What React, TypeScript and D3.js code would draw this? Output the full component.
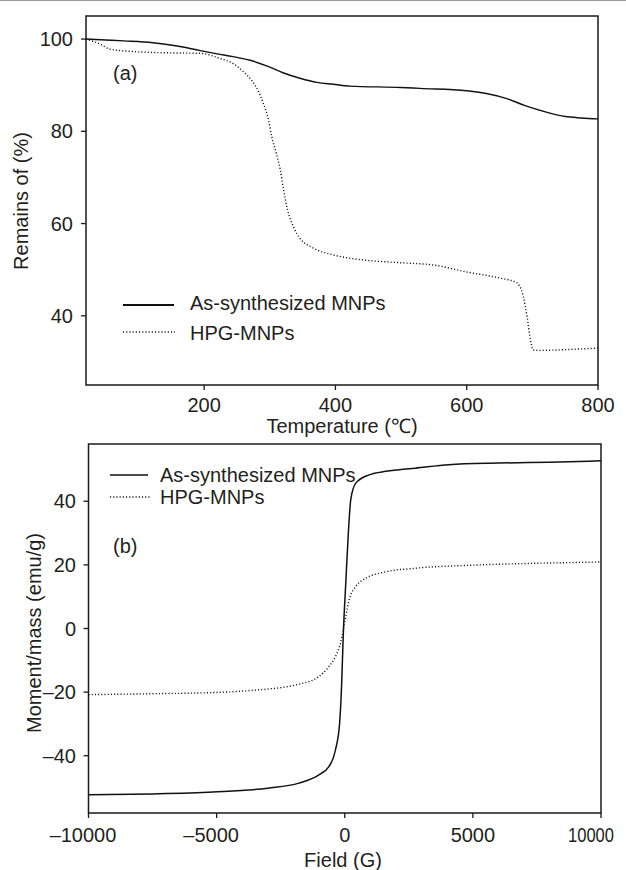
import React from "react";
import * as d3 from "d3";

// ---- Panel (a): TGA ----
const tgaAsTemp = [20, 50, 78, 122, 159, 194, 220, 244, 270, 295, 320, 346, 372, 397, 422, 500, 529, 600, 630, 661, 690, 720, 750, 775, 800];
const tgaAsVal = [100, 99.8, 99.6, 99.2, 98.5, 97.5, 96.8, 96.2, 95.4, 94.2, 92.7, 91.5, 90.6, 90.2, 89.8, 89.5, 89.3, 88.8, 88.2, 87.1, 85.5, 84.2, 83.2, 82.9, 82.7];

const tgaHpgTemp = [20, 40, 57, 92, 150, 194, 224, 244, 260, 272, 283, 290, 298, 303, 310, 316, 321, 327, 336, 346, 366, 397, 417, 450, 500, 550, 600, 650, 676, 686, 692, 697, 701, 710, 740, 770, 800];
const tgaHpgVal = [100, 99, 97.8, 97.3, 97, 96.9, 95.8, 94.7, 92.9, 91.1, 88.6, 86.1, 82.5, 78.8, 75.2, 71.6, 67.3, 63, 59.3, 56.8, 54.7, 53.2, 52.6, 52, 51.5, 51, 49.5, 48.2, 47.2, 44.3, 39.8, 34.8, 32.6, 32.5, 32.6, 32.8, 33];

const tgaXTicks = [200, 400, 600, 800];
const tgaYTicks = [40, 60, 80, 100];

// ---- Panel (b): M-H ----
const mhAsField = [-10000, -7500, -5150, -3000, -1790, -1010, -620, -360, -200, -120, -55, 40, 140, 235, 430, 950, 1600, 2120, 2750, 4060, 6000, 8000, 10000];
const mhAsVal = [-52.3, -52, -51.4, -50.2, -48.6, -46, -43.4, -38.1, -29.7, -17.2, -1.4, 14.3, 30, 40.5, 45.7, 48.3, 49.4, 49.9, 50.4, 51.5, 52, 52.3, 52.7];

const mhHpgField = [-10000, -7500, -5000, -3700, -1790, -1010, -620, -360, -165, -55, 40, 170, 430, 820, 1470, 2120, 2430, 3290, 4060, 6000, 8000, 10000];
const mhHpgVal = [-20.8, -20.5, -20.1, -19.5, -17.5, -15.1, -12, -8.8, -4.6, -0.4, 3.8, 9, 13.2, 15.8, 17.6, 18.5, 18.7, 19.3, 19.6, 20.2, 20.6, 20.9];

const mhXTicks = [-10000, -5000, 0, 5000, 10000];
const mhYTicks = [-40, -20, 0, 20, 40];

const seriesNames = ["As-synthesized MNPs", "HPG-MNPs"];

const FONT = "'Liberation Sans', Arial, Helvetica, sans-serif";
const TXT = "#231f20";
const DOT = "1.1,2.1";

function fmt(v: number) {
  return v < 0 ? "\u2013" + Math.abs(v) : String(v);
}

function Frame({ x, y, tickX, tickY, labelGapX, labelGapY, squeezeLast }: any) {
  const [x0, x1] = x.range();
  const [y0, y1] = y.range();
  return (
    <g>
      <rect x={x0} y={y1} width={x1 - x0} height={y0 - y1} fill="none" stroke="#1a1a1a" strokeWidth={1.5} />
      {tickX.map((t: number, i: number) => {
        const last = squeezeLast && i === tickX.length - 1;
        return (
          <g key={"x" + t}>
            <line x1={x(t)} x2={x(t)} y1={y0} y2={y0 + 5} stroke="#1a1a1a" strokeWidth={1.3} />
            {last ? (
              <text
                x={x1 + 13}
                y={y0 + labelGapX}
                textAnchor="end"
                fontSize={20}
                fill={TXT}
                fontFamily={FONT}
                textLength={46}
                lengthAdjust="spacingAndGlyphs"
              >
                {fmt(t)}
              </text>
            ) : (
              <text
                x={x(t) - (t < 0 ? 5.5 : 0)}
                y={y0 + labelGapX}
                textAnchor="middle"
                fontSize={20}
                fill={TXT}
                fontFamily={FONT}
              >
                {fmt(t)}
              </text>
            )}
          </g>
        );
      })}
      {tickY.map((t: number) => (
        <g key={"y" + t}>
          <line x1={x0 - 5} x2={x0} y1={y(t)} y2={y(t)} stroke="#1a1a1a" strokeWidth={1.3} />
          <text x={x0 - labelGapY} y={y(t) + 7} textAnchor="end" fontSize={20} fill={TXT} fontFamily={FONT}>
            {fmt(t)}
          </text>
        </g>
      ))}
    </g>
  );
}

export default function App() {
  // Panel a scales
  const xa = d3.scaleLinear().domain([20, 800]).range([86, 598]);
  const ya = d3.scaleLinear().domain([25, 105]).range([385, 16]);
  // Panel b scales
  const xb = d3.scaleLinear().domain([-10000, 10000]).range([88.5, 601]);
  const yb = d3.scaleLinear().domain([-58, 58]).range([813, 444]);

  const mk = (xs: number[], ys: number[], sx: any, sy: any) =>
    d3
      .line<number>()
      .x((d) => sx(d))
      .y((_, i) => sy(ys[i]))
      .curve(d3.curveMonotoneX)(xs) as string;

  const pathAsA = mk(tgaAsTemp, tgaAsVal, xa, ya);
  const pathHpgA = mk(tgaHpgTemp, tgaHpgVal, xa, ya);
  const pathAsB = mk(mhAsField, mhAsVal, xb, yb);
  const pathHpgB = mk(mhHpgField, mhHpgVal, xb, yb);

  return (
    <svg
      width={626}
      height={870}
      style={{ position: "absolute", left: 0, top: 0, background: "#fff" }}
      fontFamily={FONT}
    >
      <rect x={0} y={0} width={626} height={870} fill="#fff" />
      <line x1={0} x2={626} y1={0.5} y2={0.5} stroke="#999" strokeWidth={1} />

      {/* Panel (a) */}
      <Frame x={xa} y={ya} tickX={tgaXTicks} tickY={tgaYTicks} labelGapX={27} labelGapY={13} />
      <path d={pathAsA} fill="none" stroke="#111" strokeWidth={1.4} />
      <path d={pathHpgA} fill="none" stroke="#111" strokeWidth={1.4} strokeDasharray={DOT} />
      <text x={113} y={80} fontSize={20} fill={TXT}>(a)</text>
      <line x1={123} x2={174} y1={305} y2={305} stroke="#111" strokeWidth={2} />
      <text x={190} y={309.5} fontSize={20} fill={TXT}>{seriesNames[0]}</text>
      <line x1={123} x2={175} y1={332} y2={332} stroke="#111" strokeWidth={1.3} strokeDasharray={DOT} />
      <text x={190} y={340} fontSize={20} fill={TXT}>{seriesNames[1]}</text>
      <text x={342} y={433} textAnchor="middle" fontSize={20} fill={TXT}>Temperature (℃)</text>
      <text transform="translate(28,201) rotate(-90)" textAnchor="middle" fontSize={20} fill={TXT}>
        Remains of (%)
      </text>

      {/* Panel (b) */}
      <Frame x={xb} y={yb} tickX={mhXTicks} tickY={mhYTicks} labelGapX={29} labelGapY={12.5} squeezeLast />
      <path d={pathAsB} fill="none" stroke="#111" strokeWidth={1.5} />
      <path d={pathHpgB} fill="none" stroke="#111" strokeWidth={1.4} strokeDasharray={DOT} />
      <text x={113} y={553} fontSize={20} fill={TXT}>(b)</text>
      <line x1={110} x2={148} y1={475} y2={475} stroke="#111" strokeWidth={1.3} />
      <text x={160} y={481.5} fontSize={20} fill={TXT}>{seriesNames[0]}</text>
      <line x1={110} x2={151} y1={497} y2={497} stroke="#111" strokeWidth={1.3} strokeDasharray={DOT} />
      <text x={160} y={504} fontSize={20} fill={TXT}>{seriesNames[1]}</text>
      <text x={343} y={867} textAnchor="middle" fontSize={20} fill={TXT}>Field (G)</text>
      <text transform="translate(40.5,633) rotate(-90)" textAnchor="middle" fontSize={20} fill={TXT}>
        Moment/mass (emu/g)
      </text>
    </svg>
  );
}
